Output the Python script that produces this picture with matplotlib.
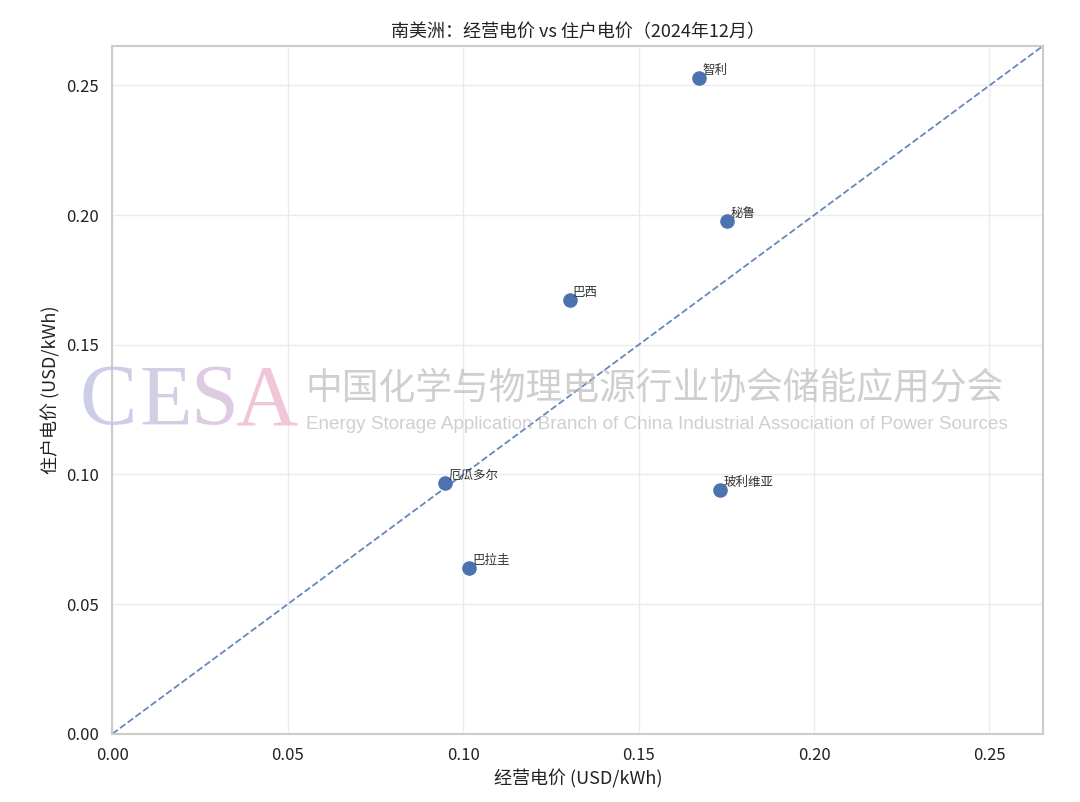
import matplotlib
matplotlib.use("Agg")
import matplotlib.pyplot as plt
import seaborn as sns

countries = ['智利', '秘鲁', '巴西', '厄瓜多尔', '玻利维亚', '巴拉圭']
biz_price = [0.1673, 0.1753, 0.1304, 0.0949, 0.1733, 0.1017]
home_price = [0.2527, 0.1978, 0.1673, 0.0966, 0.0939, 0.0638]

sns.set_theme(style='whitegrid')
plt.rcParams['font.family'] = ['Noto Sans CJK SC', 'DejaVu Sans']
plt.rcParams['axes.unicode_minus'] = False

fig, ax = plt.subplots(figsize=(10.8, 8.02), dpi=100)

lim = max(max(biz_price), max(home_price)) * 1.05
ax.plot([0, lim], [0, lim], ls='--', color='#4c72b0', lw=1.3, alpha=0.85, zorder=1)
ax.scatter(biz_price, home_price, s=90, color='#4c72b0', zorder=3)

for name, x, y in zip(countries, biz_price, home_price):
    ax.annotate(name, (x, y), xytext=(2, 3), textcoords='offset points',
                fontsize=9, color='#333333')

ax.set_xlim(0, lim)
ax.set_ylim(0, lim)
ax.set_xticks([0, 0.05, 0.10, 0.15, 0.20, 0.25])
ax.set_yticks([0, 0.05, 0.10, 0.15, 0.20, 0.25])
ax.xaxis.set_major_formatter(plt.FormatStrFormatter('%.2f'))
ax.yaxis.set_major_formatter(plt.FormatStrFormatter('%.2f'))
ax.tick_params(labelsize=12, colors='#222222')
ax.grid(color='#ebebeb', lw=1)
for s in ax.spines.values():
    s.set_color('#cccccc')
    s.set_linewidth(1.5)

ax.set_title('南美洲：经营电价 vs 住户电价（2024年12月）', fontsize=13, color='#222222')
ax.set_xlabel('经营电价 (USD/kWh)', fontsize=13, color='#222222')
ax.set_ylabel('住户电价 (USD/kWh)', fontsize=13, color='#222222')

# watermark (CESA letters fade from lavender to pink)
wm_colors = ['#c4c6e4', '#cac6e2', '#d8c4dc', '#efbcd2']
wm_x = [0.074, 0.129, 0.176, 0.218]
for ch, c, xx in zip('CESA', wm_colors, wm_x):
    fig.text(xx, 0.497, ch, fontsize=62, family='Liberation Serif', color=c,
             alpha=0.85, va='center')
fig.text(0.283, 0.516, '中国化学与物理电源行业协会储能应用分会', fontsize=26.5,
         color='#bbbbbb', alpha=0.7, va='center')
fig.text(0.283, 0.471, 'Energy Storage Application Branch of China Industrial Association of Power Sources',
         fontsize=13.6, family='Liberation Sans', color='#bbbbbb', alpha=0.7, va='center')

plt.subplots_adjust(left=0.104, right=0.966, top=0.943, bottom=0.085)
plt.savefig('out.png', dpi=100)
